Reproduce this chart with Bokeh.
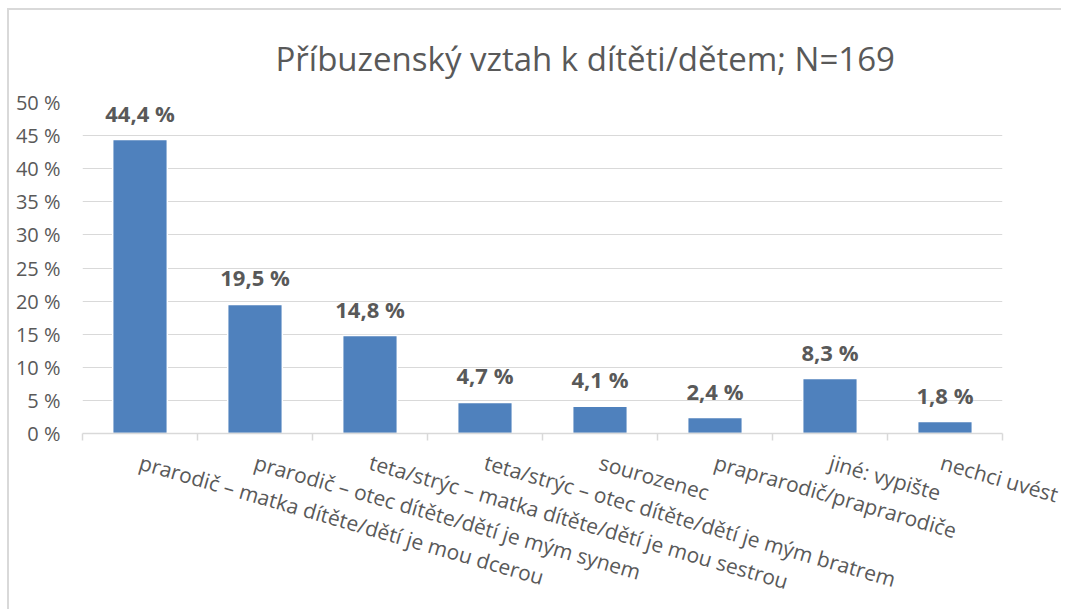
from bokeh.plotting import figure
from bokeh.models import ColumnDataSource, FixedTicker, Range1d
from bokeh.core.properties import value
from bokeh.embed import file_html
from bokeh.resources import INLINE

title_text = "Příbuzenský vztah k dítěti/dětem; N=169"
categories = [
    "prarodič – matka dítěte/dětí je mou dcerou",
    "prarodič – otec dítěte/dětí je mým synem",
    "teta/strýc – matka dítěte/dětí je mou sestrou",
    "teta/strýc – otec dítěte/dětí je mým bratrem",
    "sourozenec",
    "praprarodič/praprarodiče",
    "jiné: vypište",
    "nechci uvést",
]
values = [44.4, 19.5, 14.8, 4.7, 4.1, 2.4, 8.3, 1.8]
value_labels = ["44,4 %", "19,5 %", "14,8 %", "4,7 %", "4,1 %", "2,4 %", "8,3 %", "1,8 %"]
y_ticks = [0, 5, 10, 15, 20, 25, 30, 35, 40, 45, 50]
y_tick_labels = ["0 %", "5 %", "10 %", "15 %", "20 %", "25 %", "30 %", "35 %", "40 %", "45 %", "50 %"]

n = len(categories)
centers = [i + 0.5 for i in range(n)]
boundaries = list(range(n + 1))

TEXT = "#595959"
GRID = "#d9d9d9"
BAR = "#4F81BD"
FONT = "Open Sans"

src = ColumnDataSource(dict(x=centers, value=values, label=value_labels))

p = figure(
    width=1054, height=601,
    x_range=Range1d(0, n), y_range=Range1d(y_ticks[0], y_ticks[-1]),
    output_backend="svg", toolbar_location=None,
    min_border_left=73, min_border_right=61, min_border_top=92, min_border_bottom=177,
)
p.styles = {"border-top": "2px solid #d9d9d9", "border-left": "2px solid #d9d9d9",
            "margin-left": "7px", "margin-top": "8px"}

p.title.text = title_text
p.title.text_font = FONT
p.title.text_font_size = "33px"
p.title.text_font_style = "normal"
p.title.text_color = TEXT
p.title.align = "left"
p.title.offset = 193
p.title.standoff = 44

p.outline_line_color = None
p.background_fill_color = "white"
p.border_fill_color = "white"

p.vbar(x="x", top="value", width=0.475, source=src,
       fill_color=BAR, line_color="white", line_width=1.5)

p.text(x="x", y="value", text="label", source=src,
       text_font=value(FONT), text_font_size="22px", text_font_style="bold",
       text_color=TEXT, text_align="center", text_baseline="alphabetic",
       y_offset=-27)

# x axis
xa = p.xaxis[0]
xa.ticker = FixedTicker(ticks=centers, minor_ticks=boundaries)
xa.major_label_overrides = {c: lab for c, lab in zip(centers, categories)}
xa.major_label_orientation = -0.28
xa.major_label_text_font = FONT
xa.major_label_text_font_size = "21px"
xa.major_label_text_color = TEXT
xa.major_label_standoff = 21
xa.major_tick_line_color = None
xa.major_tick_out = 0
xa.major_tick_in = 0
xa.minor_tick_line_color = GRID
xa.minor_tick_line_width = 1.5
xa.minor_tick_out = 7
xa.minor_tick_in = 0
xa.axis_line_color = GRID
xa.axis_line_width = 1.5

# y axis
ya = p.yaxis[0]
ya.ticker = FixedTicker(ticks=y_ticks, minor_ticks=[])
ya.major_label_overrides = {t: lab for t, lab in zip(y_ticks, y_tick_labels)}
ya.major_label_text_font = FONT
ya.major_label_text_font_size = "20px"
ya.major_label_text_color = TEXT
ya.major_label_standoff = 22
ya.axis_line_color = None
ya.major_tick_line_color = None
ya.major_tick_out = 0
ya.major_tick_in = 0
ya.minor_tick_line_color = None

p.xgrid.grid_line_color = None
p.ygrid.grid_line_color = GRID
p.ygrid.grid_line_width = 1.2

open("out.html", "w").write(file_html(p, INLINE))
